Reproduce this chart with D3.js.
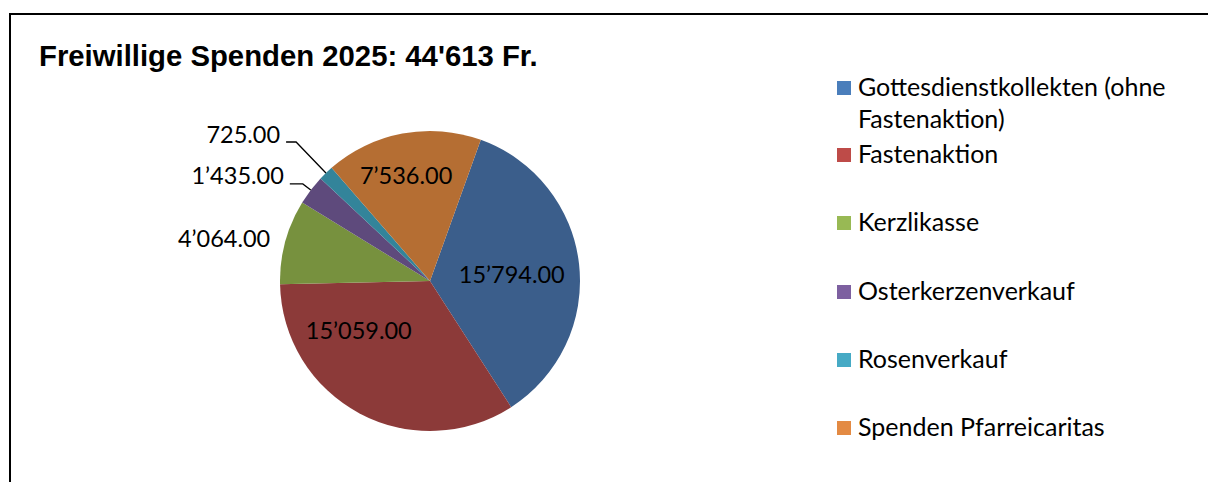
<!DOCTYPE html>
<html>
<head>
<meta charset="utf-8">
<script src="https://cdn.jsdelivr.net/npm/d3@7"></script>
<style>
  html, body { margin: 0; padding: 0; background: #fff; }
  svg { display: block; }
</style>
</head>
<body>
<svg id="chart" width="1208" height="482"></svg>
<script>
// ---- data ----
const categories = [
  "Gottesdienstkollekten (ohne Fastenaktion)",
  "Fastenaktion",
  "Kerzlikasse",
  "Osterkerzenverkauf",
  "Rosenverkauf",
  "Spenden Pfarreicaritas"
];
const values = [15794, 15059, 4064, 1435, 725, 7536];
const legendLines = [
  ["Gottesdienstkollekten (ohne", "Fastenaktion)"],
  ["Fastenaktion"],
  ["Kerzlikasse"],
  ["Osterkerzenverkauf"],
  ["Rosenverkauf"],
  ["Spenden Pfarreicaritas"]
];
const title = "Freiwillige Spenden 2025: 44'613 Fr.";
const sliceColors = ["#3B5E8B", "#8C3A39", "#77913E", "#5E4A7C", "#33849A", "#B56E33"];
const legendColors = ["#4A7EBB", "#BE4B48", "#98B954", "#7D60A0", "#46AAC5", "#E38A43"];

// ---- layout ----
const svg = d3.select("#chart");
const cx = 430, cy = 281, R = 150;
const startDeg = 19.8;

const fmt = v => {
  const s = d3.format(",.2f")(v);
  return s.replace(/,/g, "\u2019");
};

// frame
svg.append("line").attr("x1", 10).attr("x2", 1208).attr("y1", 14).attr("y2", 14)
  .attr("stroke", "#000").attr("stroke-width", 2);
svg.append("line").attr("x1", 10).attr("x2", 10).attr("y1", 13).attr("y2", 482)
  .attr("stroke", "#000").attr("stroke-width", 2);

// title
svg.append("text").attr("x", 39).attr("y", 66)
  .attr("font-family", "'Liberation Sans', Arial, sans-serif")
  .attr("font-weight", "bold").attr("font-size", 29.3)
  .attr("fill", "#000").text(title);

const pie = d3.pie().sort(null).value(d => d)
  .startAngle(startDeg * Math.PI / 180)
  .endAngle(startDeg * Math.PI / 180 + 2 * Math.PI);
const arcs = pie(values);
const arc = d3.arc().innerRadius(0).outerRadius(R);

const g = svg.append("g").attr("transform", `translate(${cx},${cy})`);
g.selectAll("path.slice").data(arcs).join("path")
  .attr("class", "slice")
  .attr("d", arc)
  .attr("fill", (d, i) => sliceColors[i]);

// labels
const labelFont = "Lato, 'Open Sans', sans-serif";
const labelSize = 23.5;
const polar = (a, r) => [Math.sin(a) * r, -Math.cos(a) * r];
// inside label placement: [radius, angle offset deg]
const inside = { 0: [82, 2.1], 1: [87, 27], 5: [108.6, -2.1] };
// outside label placement: [elbow radius, horizontal length]
const outside = { 2: null, 3: [160, 13], 4: [193, 10] };

arcs.forEach((d, i) => {
  const mid = (d.startAngle + d.endAngle) / 2;
  if (inside[i]) {
    const [r, off] = inside[i];
    const [x, y] = polar(mid + off * Math.PI / 180, r);
    g.append("text").attr("x", x).attr("y", y).attr("dy", "0.36em")
      .attr("text-anchor", "middle")
      .attr("font-family", labelFont).attr("font-size", labelSize)
      .attr("fill", "#000").text(fmt(values[i]));
  } else if (outside[i] === null) {
    const [x, y] = polar(mid, R);
    g.append("text").attr("x", x - 15).attr("y", y - 3).attr("dy", "0.36em")
      .attr("text-anchor", "end")
      .attr("font-family", labelFont).attr("font-size", labelSize)
      .attr("fill", "#000").text(fmt(values[i]));
  } else {
    const [er, hl] = outside[i];
    const p0 = polar(mid, R);
    const p1 = polar(mid, er);
    const p2 = [p1[0] - hl, p1[1]];
    g.append("polyline")
      .attr("points", [p0, p1, p2].map(p => p.join(",")).join(" "))
      .attr("fill", "none").attr("stroke", "#000").attr("stroke-width", 1.3);
    g.append("text").attr("x", p2[0] - 6).attr("y", p2[1] + 0.5)
      .attr("text-anchor", "end")
      .attr("font-family", labelFont).attr("font-size", labelSize)
      .attr("fill", "#000").text(fmt(values[i]));
  }
});

// legend
const lg = svg.append("g");
const legendBase = [96, 163, 231, 300, 368, 436];
legendLines.forEach((lines, i) => {
  const by = legendBase[i];
  lg.append("rect").attr("x", 837).attr("y", by - 15).attr("width", 14).attr("height", 14)
    .attr("fill", legendColors[i]);
  lines.forEach((t, j) => {
    lg.append("text").attr("x", 858).attr("y", by + j * 32)
      .attr("font-family", labelFont).attr("font-size", 25)
      .attr("fill", "#000").text(t);
  });
});
</script>
</body>
</html>
